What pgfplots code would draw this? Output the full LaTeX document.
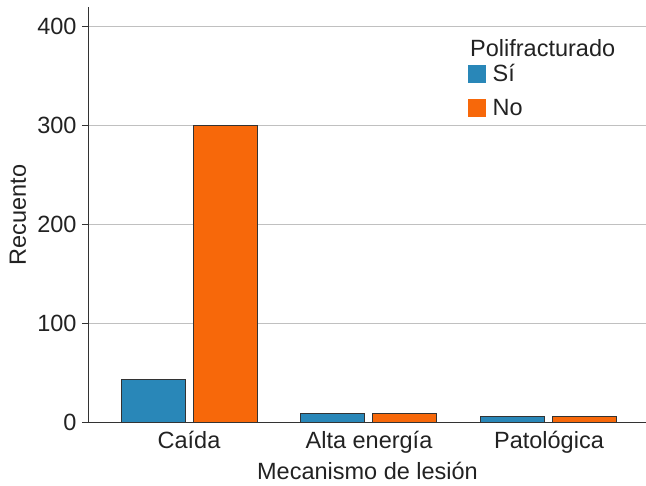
\documentclass[border=0pt]{standalone}
\usepackage{pgfplots}
\pgfplotsset{compat=1.18}
\usepackage{fontspec}
\setmainfont{Liberation Sans}
\definecolor{siblue}{RGB}{41,135,184}
\definecolor{noorange}{RGB}{247,104,10}
\definecolor{axgray}{RGB}{51,51,51}
\definecolor{txtgray}{RGB}{34,34,34}
\definecolor{gridgray}{RGB}{192,192,192}
\newcommand{\bigfont}{\fontsize{23.5}{28}\selectfont}
\begin{document}
\begin{tikzpicture}
% fixed page: 646 x 486, axis box at (0,0)-(557,415.7)
\useasboundingbox (-89pt,-63.3pt) rectangle (557pt,422.7pt);
\begin{axis}[
    at={(0,0)}, anchor=south west,
    width=557pt, height=415.7pt, scale only axis,
    xmin=-0.5556, xmax=2.539,
    ymin=0, ymax=420,
    axis x line*=bottom, axis y line*=left,
    axis line style={axgray, line width=1pt, -},
    xtick={0,1,2},
    xticklabels={Caída,Alta energía,Patológica},
    x tick style={draw=none},
    ytick={0,100,200,300,400},
    y tick style={axgray, line width=1pt},
    tick align=outside,
    major tick length=7pt,
    ymajorgrids,
    grid style={gridgray, line width=1pt},
    tick label style={font=\bigfont, text=txtgray},
    /pgf/number format/assume math mode=true,
    yticklabel style={xshift=-2pt},
    xticklabel style={anchor=base, yshift=-19pt},
    xlabel={Mecanismo de lesión},
    ylabel={Recuento},
    label style={font=\bigfont, text=txtgray},
    xlabel style={at={(rel axis cs:0.5,0)}, anchor=base, yshift=-57pt},
    ylabel style={at={([xshift=-71pt]rel axis cs:0,0.5)}, anchor=center},
    ybar, bar width=64pt,
    legend style={at={(rel axis cs:0.6805,0.87)}, anchor=north west,
        draw=none, fill=none, font=\bigfont, text=txtgray,
        row sep=10pt, inner sep=0pt, nodes={inner sep=3pt}},
    legend cell align=left,
    legend image code/.code={\fill[draw=none] (0pt,-9pt) rectangle (18pt,9pt);
        \path (21pt,0pt);},
]
\addplot[bar shift=-36pt, fill=siblue, draw=axgray, line width=1pt]
    coordinates {(0,44) (1,9.5) (2,6)};
\addlegendentry{Sí}
\addplot[bar shift=36pt, fill=noorange, draw=axgray, line width=1pt]
    coordinates {(0,300) (1,9.5) (2,6)};
\addlegendentry{No}
\node[anchor=base west, font=\bigfont, text=txtgray, inner sep=0pt]
    at (rel axis cs:0.684,0.882) {Polifracturado};
\end{axis}
\end{tikzpicture}
\end{document}
